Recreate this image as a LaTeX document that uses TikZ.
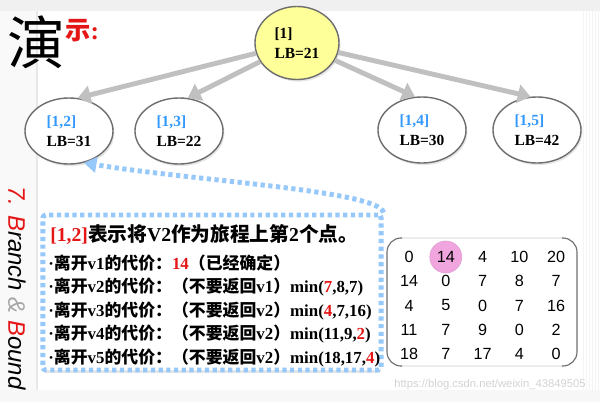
\documentclass[tikz,border=0pt]{standalone}
\usepackage{fontspec}
\setmainfont{Liberation Serif}
\newfontfamily\cjk{Noto Sans CJK SC}
\newfontfamily\arialfont{Liberation Sans}
\usetikzlibrary{shapes.geometric,arrows.meta,positioning,shadows}
\definecolor{arrowGray}{RGB}{192,192,192}
\definecolor{nodeGray}{RGB}{110,110,110}
\definecolor{rootYellow}{RGB}{255,255,153}
\definecolor{idBlue}{RGB}{51,153,255}
\definecolor{calloutBlue}{RGB}{150,200,250}
\definecolor{hiRed}{RGB}{228,22,22}
\definecolor{pinkFill}{RGB}{240,165,222}
\newcommand{\zh}[1]{{\cjk #1}}

\begin{document}
\begin{tikzpicture}[x=0.025cm,y=-0.025cm,
    treenode/.style={draw=nodeGray, line width=1pt, ellipse, fill=white, minimum width=2.2cm, minimum height=1.65cm, align=left, font=\fontsize{11}{14}\selectfont\bfseries, drop shadow={opacity=0.2, shadow xshift=1pt, shadow yshift=-1.5pt}},
    branch/.style={-{Triangle[width=13pt,length=9pt]}, line width=3.5pt, arrowGray},
    callout/.style={draw=calloutBlue, line width=3.5pt, dash pattern=on 3pt off 2.5pt},
    costline/.style={anchor=west, inner sep=0pt, font=\fontsize{12}{14}\selectfont\bfseries},
    mnum/.style={inner sep=0pt, font=\arialfont\fontsize{11.5}{12}\selectfont}]
        \useasboundingbox (0,0) rectangle (600,402);
        % slide frame
        \fill[gray!12] (0,0) rectangle (600,11);
        \fill[gray!5] (0,11) rectangle (36,390);
        \draw[gray!18, line width=1.5pt] (37,11) -- (37,390);
        \fill[gray!6] (0,390) rectangle (600,402);
        \fill[gray!9] (583,11) rectangle (600,390);
        \foreach \i in {0,...,5}
            \draw[white, line width=0.8pt] ({585+3*\i},11) -- ({585+3*\i},390);
        
        % heading
        \node[font=\cjk\fontsize{41}{41}\selectfont, inner sep=0pt] (yan) at (36,42) {演};
        \node[font=\fontsize{18}{18}\selectfont\bfseries, text=hiRed, inner sep=0pt, anchor=west] (shi) at (65,31) {\zh{示}:};
        \node[font=\arialfont\itshape\fontsize{17}{17}\selectfont, rotate=-90, inner sep=0pt] (bb) at (17,288) {{\color{hiRed}7. B}ranch {\color{gray!70}\&} {\color{hiRed}B}ound};
        
        % search tree
        \node[treenode, fill=rootYellow, minimum width=2.1cm, minimum height=1.825cm] (root) at (297,43) {[1]\\LB=21};
        \node[treenode] (c12) at (69,131) {{\color{idBlue}[1,2]}\\LB=31};
        \node[treenode] (c13) at (179,131) {{\color{idBlue}[1,3]}\\LB=22};
        \node[treenode] (c14) at (422,130) {{\color{idBlue}[1,4]}\\LB=30};
        \node[treenode] (c15) at (537,130) {{\color{idBlue}[1,5]}\\LB=42};
        
        \draw[branch] (root) -- (c12.75);
        \draw[branch] (root) -- (c13.75);
        \draw[branch] (root) -- (c14.102);
        \draw[branch] (root) -- (c15.101);
        
        % explanation box
        \node[callout, fill=white, rounded corners=2pt, minimum width=8.45cm, minimum height=3.875cm, drop shadow={opacity=0.2, shadow xshift=0pt, shadow yshift=-2pt}] (box) at (212,292.5) {};
        \draw[callout, -{Triangle[width=11pt,length=9pt]}] (box.north east) .. controls +(-5,-22) and +(110,18) .. (c12.-65);
        
        \node[costline, font=\fontsize{14}{16}\selectfont\bfseries] (t1) at (50,235) {{\color{hiRed}[1,2]}\zh{表示将}V2\zh{作为旅程上第}2\zh{个点。}};
        \node[costline] (t2) at (48,263) {·\zh{离开}v1\zh{的代价：}{\color{hiRed}14}\zh{（已经确定）}};
        \node[costline] (t3) at (48,287) {·\zh{离开}v2\zh{的代价：（不要返回}v1\zh{）}min({\color{hiRed}7},8,7)};
        \node[costline] (t4) at (48,311) {·\zh{离开}v3\zh{的代价：（不要返回}v2\zh{）}min({\color{hiRed}4},7,16)};
        \node[costline] (t5) at (48,334) {·\zh{离开}v4\zh{的代价：（不要返回}v2\zh{）}min(11,9,{\color{hiRed}2})};
        \node[costline] (t6) at (48,358) {·\zh{离开}v5\zh{的代价：（不要返回}v2\zh{）}min(18,17,{\color{hiRed}4})};
        
        % cost matrix
        \fill[white] (387,238) rectangle (577,366);
        \draw[gray!15, line width=1.2pt] (400,238) -- (564,238) (400,366) -- (564,366);
        \draw[nodeGray, line width=0.8pt, rounded corners=10pt] (402,238) -- (387,238) -- (387,366) -- (402,366);
        \draw[nodeGray, line width=0.8pt, rounded corners=10pt] (562,238) -- (577,238) -- (577,366) -- (562,366);
        \node[circle, fill=pinkFill, draw=pinkFill!85!gray, minimum size=0.8cm] (hl) at (445.75,257) {};
        \foreach \row [count=\r] in {{0,14,4,10,20},{14,0,7,8,7},{4,5,0,7,16},{11,7,9,0,2},{18,7,17,4,0}}
            \foreach \v [count=\c] in \row
                \node[mnum] (m\r\c) at ({409+36.75*(\c-1)},{257+24.25*(\r-1)}) {\v};
        
        \node[font=\arialfont\fontsize{8}{9}\selectfont, text=gray!35, inner sep=0pt] (wm) at (490,385) {https://blog.csdn.net/weixin\_43849505};
    \end{tikzpicture}
\end{document}
